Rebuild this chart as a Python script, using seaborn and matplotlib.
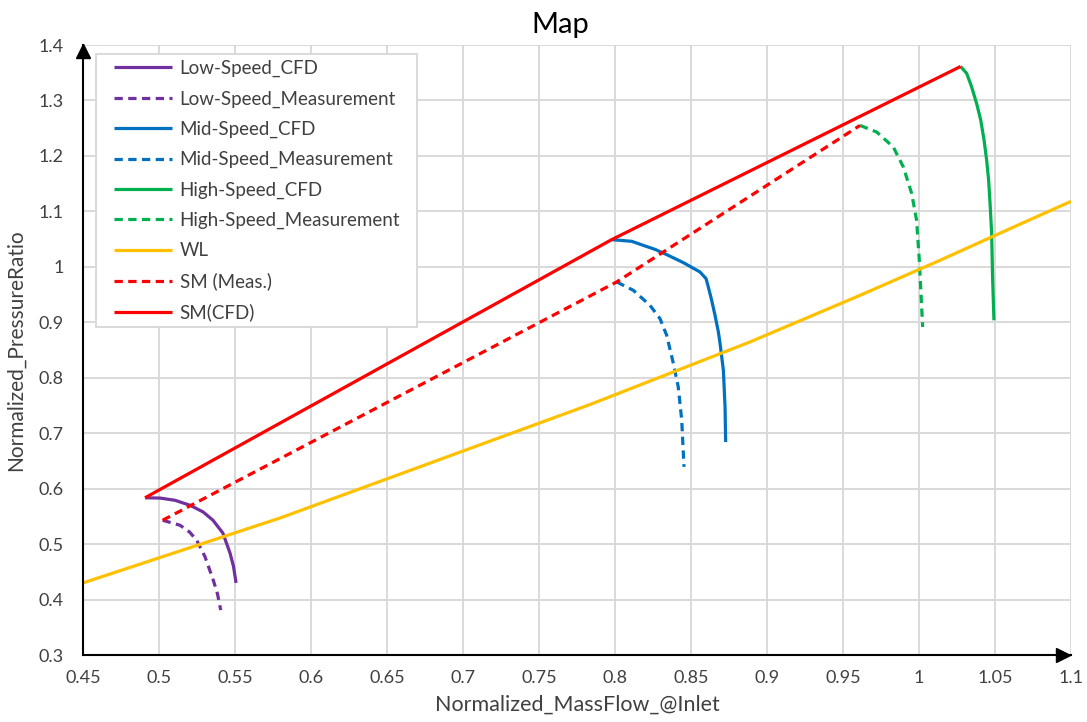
import matplotlib
matplotlib.use("Agg")
import matplotlib.pyplot as plt
import matplotlib.transforms as mtransforms
from matplotlib.patches import Rectangle
import numpy as np
import pandas as pd
import seaborn as sns

# ---------------- data ----------------
low_cfd_x = [0.4908, 0.5007, 0.5105, 0.5204, 0.5290, 0.5355, 0.5420, 0.5467, 0.5490, 0.5507]
low_cfd_y = [0.5835, 0.5830, 0.5790, 0.5700, 0.5580, 0.5430, 0.5200, 0.4840, 0.4600, 0.4300]

low_meas_x = [0.5024, 0.5138, 0.5200, 0.5248, 0.5303, 0.5357, 0.5385, 0.5406]
low_meas_y = [0.543, 0.534, 0.522, 0.507, 0.477, 0.435, 0.410, 0.381]

mid_cfd_x = [0.7978, 0.8110, 0.8186, 0.8263, 0.8340, 0.8450, 0.8559, 0.8599, 0.8614,
             0.8636, 0.8658, 0.8680, 0.8691, 0.8713, 0.8724, 0.8728]
mid_cfd_y = [1.0490, 1.0460, 1.0387, 1.0315, 1.0220, 1.0075, 0.9907, 0.9787, 0.9636,
             0.9396, 0.9126, 0.8825, 0.8620, 0.8135, 0.7470, 0.6840]

mid_meas_x = [0.8011, 0.8120, 0.8230, 0.8296, 0.8340, 0.8384, 0.8416, 0.8439, 0.8454]
mid_meas_y = [0.9727, 0.9577, 0.9306, 0.9066, 0.8766, 0.8256, 0.7835, 0.7234, 0.6393]

high_cfd_x = [1.0274, 1.0314, 1.0346, 1.0379, 1.0406, 1.0428, 1.0445, 1.0458, 1.0467,
              1.0478, 1.0484, 1.0493]
high_cfd_y = [1.3613, 1.3486, 1.3246, 1.2946, 1.2646, 1.2285, 1.1925, 1.1565, 1.1168,
              1.0600, 0.9816, 0.9036]

high_meas_x = [0.9612, 0.9722, 0.9831, 0.9897, 0.9952, 0.9984, 1.0002, 1.0013, 1.0024]
high_meas_y = [1.2550, 1.2430, 1.2160, 1.1800, 1.1320, 1.0840, 1.0120, 0.9517, 0.8915]

wl_x = [0.45, 0.5796, 0.7836, 0.8888, 0.9612, 1.0138, 1.0599, 1.10]
wl_y = [0.430, 0.547, 0.7517, 0.8645, 0.9486, 1.0117, 1.0688, 1.118]

sm_meas_x = [0.5024, 0.8011, 0.9612]
sm_meas_y = [0.543, 0.9727, 1.255]

sm_cfd_x = [0.4908, 0.7978, 1.0274]
sm_cfd_y = [0.5835, 1.0490, 1.3613]

series_names = ["Low-Speed_CFD", "Low-Speed_Measurement", "Mid-Speed_CFD",
                "Mid-Speed_Measurement", "High-Speed_CFD", "High-Speed_Measurement",
                "WL", "SM (Meas.)", "SM(CFD)"]

x_ticks = [0.45, 0.5, 0.55, 0.6, 0.65, 0.7, 0.75, 0.8, 0.85, 0.9, 0.95, 1.0, 1.05, 1.1]
x_tick_labels = ["0.45", "0.5", "0.55", "0.6", "0.65", "0.7", "0.75", "0.8", "0.85",
                 "0.9", "0.95", "1", "1.05", "1.1"]
y_ticks = [0.3, 0.4, 0.5, 0.6, 0.7, 0.8, 0.9, 1.0, 1.1, 1.2, 1.3, 1.4]
y_tick_labels = ["0.3", "0.4", "0.5", "0.6", "0.7", "0.8", "0.9", "1", "1.1", "1.2", "1.3", "1.4"]

# ---------------- styling ----------------
sns.set_theme(style="white")
plt.rcParams["font.family"] = ["Lato", "DejaVu Sans"]

PURPLE = "#7030A0"
BLUE = "#0070C0"
GREEN = "#00B050"
YELLOW = "#FFC000"
RED = "#FF0000"

series = [
    (low_cfd_x, low_cfd_y, PURPLE, False),
    (low_meas_x, low_meas_y, PURPLE, True),
    (mid_cfd_x, mid_cfd_y, BLUE, False),
    (mid_meas_x, mid_meas_y, BLUE, True),
    (high_cfd_x, high_cfd_y, GREEN, False),
    (high_meas_x, high_meas_y, GREEN, True),
    (wl_x, wl_y, YELLOW, False),
    (sm_meas_x, sm_meas_y, RED, True),
    (sm_cfd_x, sm_cfd_y, RED, False),
]

W, H = 1087, 722
fig = plt.figure(figsize=(W / 100, H / 100), dpi=100)
AX_L, AX_B, AX_W, AX_H = 83, 67, 988, 610
ax = fig.add_axes([AX_L / W, AX_B / H, AX_W / W, AX_H / H])


def px_to_axes(px, py):
    """image pixel (from top-left) -> axes fraction"""
    return (px - AX_L) / AX_W, ((H - py) - AX_B) / AX_H


handles = []
for (xs, ys, col, dashed), name in zip(series, series_names):
    df = pd.DataFrame({"x": xs, "y": ys})
    n_before = len(ax.lines)
    sns.lineplot(data=df, x="x", y="y", color=col, linewidth=2.3, sort=False,
                 estimator=None, ax=ax, legend=False)
    ln = ax.lines[n_before]
    if dashed:
        ln.set_dashes([2.6, 1.7])
    ln.set_solid_capstyle("butt")
    ln.set_dash_capstyle("butt")
    ln.set_solid_joinstyle("round")
    ln.set_label(name)
    handles.append(ln)

ax.set_xlim(0.45, 1.1)
ax.set_ylim(0.3, 1.4)
ax.set_xticks(x_ticks)
ax.set_xticklabels(x_tick_labels)
ax.set_yticks(y_ticks)
ax.set_yticklabels(y_tick_labels)
ax.tick_params(axis="x", length=0, pad=11, labelsize=13, labelcolor="#404040")
ax.tick_params(axis="y", length=0, pad=14, labelsize=13, labelcolor="#404040")

ax.grid(True, color="#d9d9d9", linewidth=1.4)
ax.set_axisbelow(True)
for s in ["top", "right"]:
    ax.spines[s].set_visible(False)
for s in ["left", "bottom"]:
    ax.spines[s].set_color("black")
    ax.spines[s].set_linewidth(1.5)
    ax.spines[s].set_zorder(5)

# axis arrows
off_up = mtransforms.ScaledTranslation(0, -4 / 72, fig.dpi_scale_trans)
off_right = mtransforms.ScaledTranslation(-6 / 72, 0, fig.dpi_scale_trans)
ax.plot(0, 1, marker="^", ms=10, color="black", transform=ax.transAxes + off_up,
        clip_on=False, zorder=6)
ax.plot(1, 0, marker=">", ms=10, color="black", transform=ax.transAxes + off_right,
        clip_on=False, zorder=6)

ax.set_xlabel("Normalized_MassFlow_@Inlet", fontsize=15.5, color="#404040", labelpad=6)
ax.set_ylabel("Normalized_PressureRatio", fontsize=15, color="#404040", labelpad=9)

fig.text(560 / W, 1 - 33 / H, "Map", fontsize=21, ha="center", va="baseline",
         color="black")

# legend frame (drawn as a patch so the inner padding can match)
x0, y0 = px_to_axes(96, 327)
x1, y1 = px_to_axes(417, 54)
ax.add_patch(Rectangle((x0, y0), x1 - x0, y1 - y0, transform=ax.transAxes,
                       facecolor="white", edgecolor="#d9d9d9", linewidth=1.4,
                       zorder=7, clip_on=False))

lx, ly = px_to_axes(114, 60)
leg = ax.legend(handles=handles, labels=series_names, loc="upper left",
                bbox_to_anchor=(lx, ly), borderaxespad=0, borderpad=0,
                fontsize=13.5, frameon=False,
                handlelength=3.1, handletextpad=0.4, labelspacing=0.7)
leg.set_zorder(8)
for t in leg.get_texts():
    t.set_color("#404040")

fig.savefig("out.png", dpi=100)
